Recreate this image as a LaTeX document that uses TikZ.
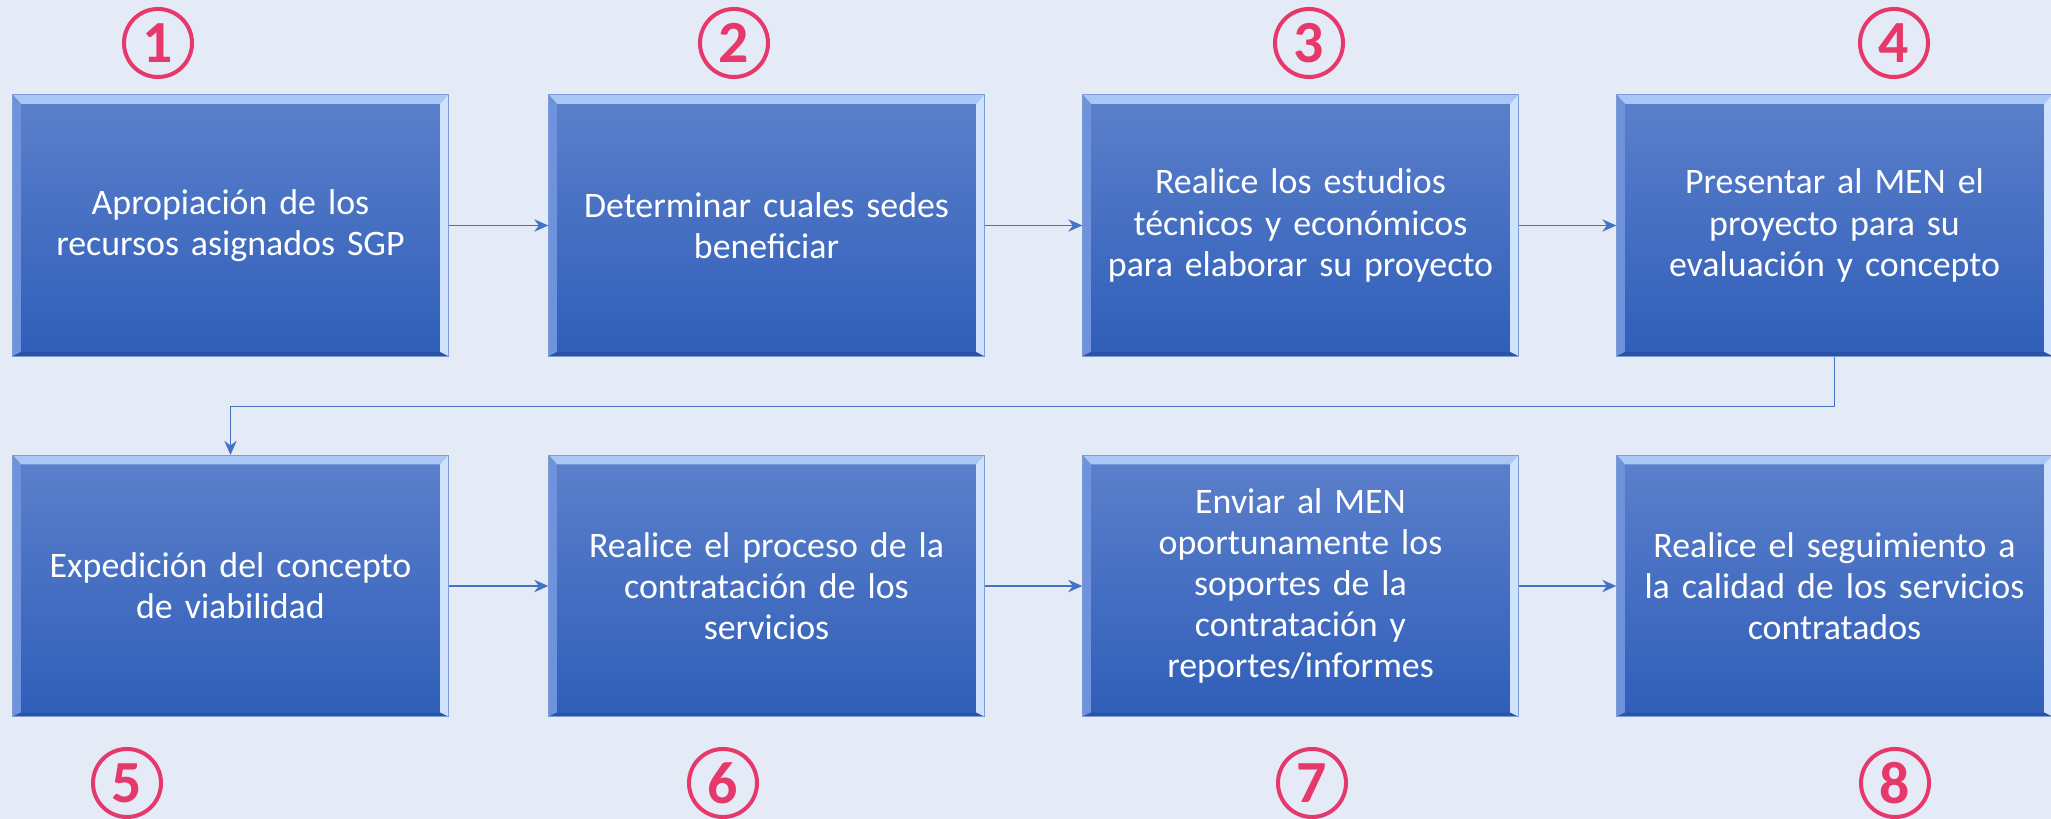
\documentclass[tikz,border=0pt]{standalone}
\usepackage{fontspec}
\setmainfont{Carlito}
\usetikzlibrary{arrows.meta}
\definecolor{fondo}{HTML}{E4EBF7}
\definecolor{cajaarriba}{HTML}{5C80CB}
\definecolor{cajaabajo}{HTML}{2F5EB9}
\definecolor{biselclaro}{HTML}{A9C7F4}
\definecolor{biselizq}{HTML}{6E93DC}
\definecolor{biselder}{HTML}{CFE3FF}
\definecolor{biseloscuro}{HTML}{2A52A6}
\definecolor{rojonum}{HTML}{E6386A}
\definecolor{lineaazul}{HTML}{4472C4}

\tikzset{
	caja/.style={rectangle,minimum width=4.35cm,minimum height=2.61cm,inner sep=0pt,
		text width=4.2cm,align=center,text=white,font=\fontsize{10.2}{11.7}\selectfont,
		top color=cajaarriba,bottom color=cajaabajo,draw=lineaazul!70,line width=0.3pt,
		path picture={
			\fill[biselclaro] (path picture bounding box.north west) -- (path picture bounding box.north east)
				-- ([shift={(-0.08cm,-0.09cm)}]path picture bounding box.north east)
				-- ([shift={(0.08cm,-0.09cm)}]path picture bounding box.north west) -- cycle;
			\fill[biselizq] (path picture bounding box.north west) -- ([shift={(0.08cm,-0.09cm)}]path picture bounding box.north west)
				-- ([shift={(0.08cm,0.04cm)}]path picture bounding box.south west) -- (path picture bounding box.south west) -- cycle;
			\fill[biselder] (path picture bounding box.north east) -- ([shift={(-0.08cm,-0.09cm)}]path picture bounding box.north east)
				-- ([shift={(-0.08cm,0.04cm)}]path picture bounding box.south east) -- (path picture bounding box.south east) -- cycle;
			\fill[biseloscuro] (path picture bounding box.south west) -- ([shift={(0.08cm,0.04cm)}]path picture bounding box.south west)
				-- ([shift={(-0.08cm,0.04cm)}]path picture bounding box.south east) -- (path picture bounding box.south east) -- cycle;
		}},
	num/.style={circle,draw=rojonum,line width=0.04cm,minimum size=0.68cm,inner sep=0pt,
		text=rojonum,font=\bfseries\fontsize{17}{17}\selectfont},
	conector/.style={draw=lineaazul,line width=0.4pt,-{Stealth[length=4pt,width=3.5pt]}}
}

\begin{document}
\begin{tikzpicture}[x=0.01cm,y=-0.01cm]
	\fill[fondo] (0,0) rectangle (2051,819);
	\useasboundingbox (0,0) rectangle (2051,819);

	% primera fila
	\node[caja] (b1) at (230.5,225.5) {Apropiación de los\\recursos asignados SGP};
	\node[caja] (b2) at (766.5,225.5) {Determinar cuales sedes\\beneficiar};
	\node[caja] (b3) at (1300.5,225.5) {Realice los estudios\\técnicos y económicos\\para elaborar su proyecto};
	\node[caja] (b4) at (1834.5,225.5) {Presentar al MEN el\\proyecto para su\\evaluación y concepto};

	% segunda fila
	\node[caja] (b5) at (230.5,586) {Expedición del concepto\\de viabilidad};
	\node[caja] (b6) at (766.5,586) {Realice el proceso de la\\contratación de los\\servicios};
	\node[caja] (b7) at (1300.5,586) {Enviar al MEN\\oportunamente los\\soportes de la\\contratación y\\reportes/informes};
	\node[caja] (b8) at (1834.5,586) {Realice el seguimiento a\\la calidad de los servicios\\contratados};

	% numeros
	\node[num] (n1) at (158,43) {1};
	\node[num] (n2) at (734,43) {2};
	\node[num] (n3) at (1309,43) {3};
	\node[num] (n4) at (1894,43) {4};
	\node[num] (n5) at (127,783) {5};
	\node[num] (n6) at (723,783) {6};
	\node[num] (n7) at (1312,783) {7};
	\node[num] (n8) at (1895,783) {8};

	% conectores
	\draw[conector] (b1) -- (b2);
	\draw[conector] (b2) -- (b3);
	\draw[conector] (b3) -- (b4);
	\draw[conector] (b4.south) -- ++(0,50) -| (b5.north);
	\draw[conector] (b5) -- (b6);
	\draw[conector] (b6) -- (b7);
	\draw[conector] (b7) -- (b8);
\end{tikzpicture}
\end{document}
